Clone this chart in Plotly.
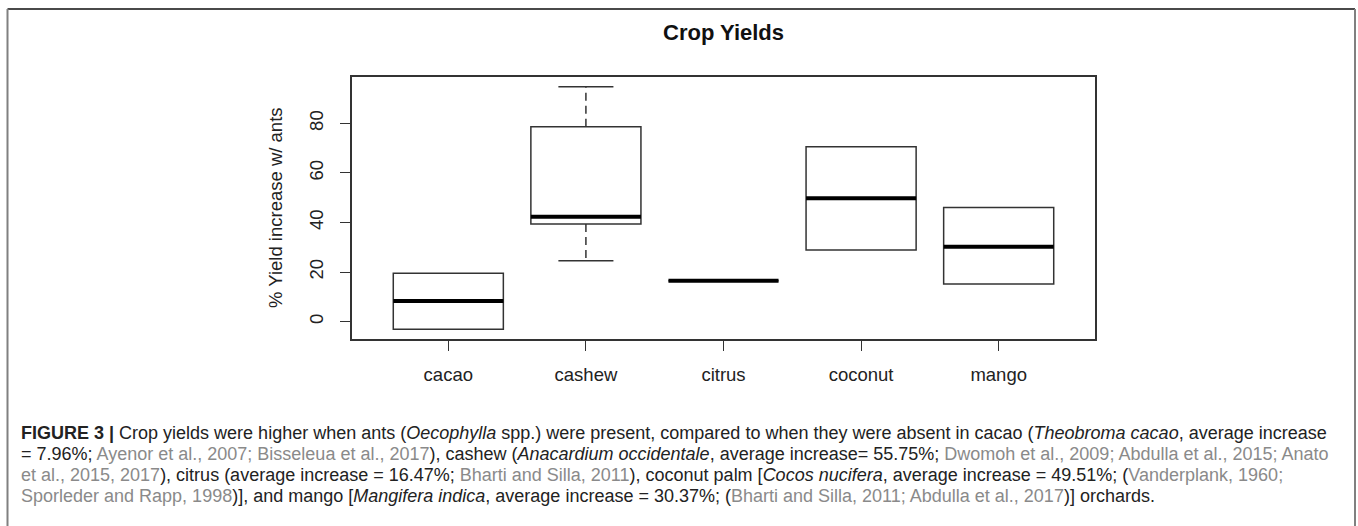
import plotly.graph_objects as go

# ---------------- data ----------------
categories = ["cacao", "cashew", "citrus", "coconut", "mango"]
positions = [1, 2, 3, 4, 5]
q1 = [-3.1, 39.4, 16.5, 28.9, 15.2]
median = [8.3, 42.3, 16.5, 49.8, 30.2]
q3 = [19.5, 78.6, 16.5, 70.6, 46.1]
whisker_low = [None, 24.6, None, None, None]
whisker_high = [None, 94.8, None, None, None]
y_ticks = [0, 20, 40, 60, 80]
y_tick_text = ["0", "20", "40", "60", "80"]

# ---------------- layout helpers ----------------
W, H = 1358, 526
L, R, T, B = 352, 1095, 77, 339  # plot area edges in pixels


def px(x):
    return (x - L) / (R - L)


def py(y):
    return (B - y) / (B - T)


LINE = "#333333"
FONT = "Liberation Sans, Arial, sans-serif"
BOX_W = 0.8
CAP_W = 0.4

fig = go.Figure()

# boxes (whiskers drawn separately so they can be dashed as in R)
fig.add_trace(go.Box(
    x=positions, q1=q1, median=median, q3=q3,
    lowerfence=q1, upperfence=q3,
    width=BOX_W, whiskerwidth=0,
    fillcolor="rgba(0,0,0,0)",
    line=dict(color=LINE, width=1.5),
    boxpoints=False, hoverinfo="skip", showlegend=False,
))

# thick medians
mx, my = [], []
for p, m in zip(positions, median):
    mx += [p - BOX_W / 2, p + BOX_W / 2, None]
    my += [m, m, None]
fig.add_trace(go.Scatter(x=mx, y=my, mode="lines",
                         line=dict(color="#000000", width=4),
                         hoverinfo="skip", showlegend=False))

# dashed whiskers and caps
wx, wy, cx, cy = [], [], [], []
for p, a, b, lo, hi in zip(positions, q1, q3, whisker_low, whisker_high):
    if lo is not None:
        wx += [p, p, None]; wy += [a, lo, None]
        cx += [p - CAP_W / 2, p + CAP_W / 2, None]; cy += [lo, lo, None]
    if hi is not None:
        wx += [p, p, None]; wy += [b, hi, None]
        cx += [p - CAP_W / 2, p + CAP_W / 2, None]; cy += [hi, hi, None]
fig.add_trace(go.Scatter(x=wx, y=wy, mode="lines",
                         line=dict(color=LINE, width=1.5, dash="8px,5px"),
                         hoverinfo="skip", showlegend=False))
fig.add_trace(go.Scatter(x=cx, y=cy, mode="lines",
                         line=dict(color=LINE, width=1.5),
                         hoverinfo="skip", showlegend=False))

axis_common = dict(
    showline=True, mirror=True, linecolor=LINE, linewidth=1.5,
    ticks="outside", ticklen=10, tickwidth=1.2, tickcolor=LINE,
    showgrid=False, zeroline=False,
    tickfont=dict(family=FONT, size=18.5, color="#222222"),
)

fig.update_layout(
    width=W, height=H,
    margin=dict(l=L, r=W - R, t=T, b=H - B, pad=0),
    paper_bgcolor="white", plot_bgcolor="white",
    xaxis=dict(range=[0.3, 5.7], tickvals=positions, ticktext=categories,
               ticklabelstandoff=8, **axis_common),
    yaxis=dict(range=[-7.0, 98.7], tickvals=y_ticks, ticktext=y_tick_text,
               tickangle=-90, ticklabelstandoff=10, **axis_common),
)

# title and y-axis title
fig.add_annotation(text="<b>Crop Yields</b>", xref="paper", yref="paper",
                   x=px(723), y=py(33), xanchor="center", yanchor="middle",
                   showarrow=False, font=dict(family=FONT, size=22, color="#111111"))
fig.add_annotation(text="% Yield increase w/ ants", xref="paper", yref="paper",
                   x=px(275), y=py(208), xanchor="center", yanchor="middle",
                   textangle=-90, showarrow=False,
                   font=dict(family=FONT, size=18.5, color="#222222"))

# caption
G = "<span style='color:#8a8a8a'>%s</span>"
caption_lines = [
    "<b>FIGURE 3 |</b> Crop yields were higher when ants (<i>Oecophylla</i> spp.) were present, "
    "compared to when they were absent in cacao (<i>Theobroma cacao</i>, average increase",
    "= 7.96%; " + G % "Ayenor et al., 2007; Bisseleua et al., 2017" + "), cashew (<i>Anacardium occidentale</i>, "
    "average increase= 55.75%; " + G % "Dwomoh et al., 2009; Abdulla et al., 2015; Anato",
    G % "et al., 2015, 2017" + "), citrus (average increase = 16.47%; " + G % "Bharti and Silla, 2011"
    + "), coconut palm [<i>Cocos nucifera</i>, average increase = 49.51%; (" + G % "Vanderplank, 1960;",
    G % "Sporleder and Rapp, 1998" + ")], and mango [<i>Mangifera indica</i>, average increase = 30.37%; ("
    + G % "Bharti and Silla, 2011; Abdulla et al., 2017" + ")] orchards.",
]
caption_y = [433, 454, 475, 496]
for txt, yy in zip(caption_lines, caption_y):
    fig.add_annotation(text=txt, xref="paper", yref="paper",
                       x=px(19), y=py(yy), xanchor="left", yanchor="middle",
                       showarrow=False, align="left",
                       font=dict(family=FONT, size=18, color="#222222"))

# outer frame (open at the bottom)
fig.add_shape(type="line", xref="paper", yref="paper",
              x0=px(7.5), x1=px(1355), y0=py(9), y1=py(9),
              line=dict(color="#4a4a4a", width=2))
fig.add_shape(type="line", xref="paper", yref="paper",
              x0=px(7.5), x1=px(7.5), y0=py(9), y1=py(530),
              line=dict(color="#808080", width=2))
fig.add_shape(type="line", xref="paper", yref="paper",
              x0=px(1355), x1=px(1355), y0=py(9), y1=py(530),
              line=dict(color="#808080", width=2))

fig.write_html("out.html", config={"displayModeBar": False},
               post_script="document.body.style.margin='0';document.body.style.overflow='hidden';")
